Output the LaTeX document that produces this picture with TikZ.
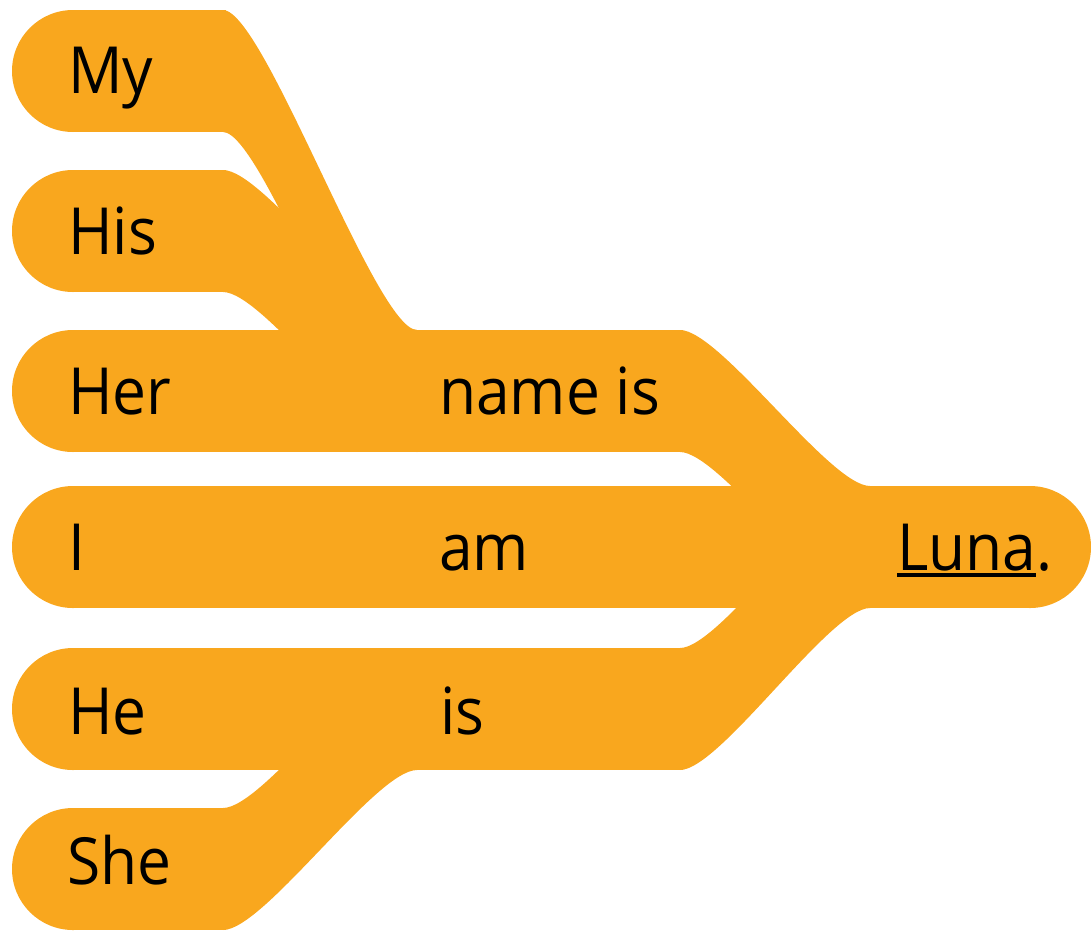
\documentclass[tikz,border=0pt]{standalone}
\usepackage{fontspec}
\setmainfont{Open Sans}[FakeStretch=0.93]
\newcommand\lunaline[1]{\setbox0=\hbox{#1}\rlap{\rule[-7pt]{\wd0}{4pt}}\box0}
\begin{document}
\begin{tikzpicture}[x=1pt,y=-1pt]
\definecolor{band}{RGB}{249,167,30}
\tikzset{
  word/.style={anchor=base west, inner sep=0pt, text=black,
               font=\fontsize{65}{70}\selectfont},
  bandfill/.style={fill=band, draw=none}
}
\useasboundingbox (0,0) rectangle (1091,930);
\clip (0,0) rectangle (1091,930);
% row bands (rounded left ends)
\foreach \c in {71,231,391,547,709,869}{
  \fill[bandfill] (73,\c) circle[radius=61];
}
\fill[bandfill] (73,10)  rectangle (226,132);
\fill[bandfill] (73,170) rectangle (226,292);
\fill[bandfill] (73,330) rectangle (683,452);
\fill[bandfill] (73,486) rectangle (1030,608);
\fill[bandfill] (1030,547) circle[radius=61];
\fill[bandfill] (73,648) rectangle (683,770);
\fill[bandfill] (73,808) rectangle (226,930);
% links
\coordinate (myA) at (223,10);   \coordinate (myB) at (417,330);
\coordinate (hisA) at (223,170); \coordinate (hisB) at (417,330);
\coordinate (sheA) at (223,808); \coordinate (sheB) at (417,648);
\coordinate (nameA) at (680,330);\coordinate (nameB) at (870,486);
\coordinate (heA) at (680,648);  \coordinate (heB) at (870,486);
\fill[bandfill] (myA) .. controls (264,10) and (376,330) .. (myB)
   -- (417,452) .. controls (376,452) and (264,132) .. (223,132) -- cycle;
\fill[bandfill] (hisA) .. controls (264,170) and (376,330) .. (hisB)
   -- (417,452) .. controls (376,452) and (264,292) .. (223,292) -- cycle;
\fill[bandfill] (sheA) .. controls (264,808) and (376,648) .. (sheB)
   -- (417,770) .. controls (376,770) and (264,930) .. (223,930) -- cycle;
\fill[bandfill] (nameA) .. controls (720,330) and (830,486) .. (nameB)
   -- (870,608) .. controls (830,608) and (720,452) .. (680,452) -- cycle;
\fill[bandfill] (heA) .. controls (720,648) and (830,486) .. (heB)
   -- (870,608) .. controls (830,608) and (720,770) .. (680,770) -- cycle;
% words
\node[word] (my)   at (68,93)  {My};
\node[word] (his)  at (68,254) {His};
\node[word] (her)  at (68,414) {Her};
\node[word] (i)    at (68,570) {I};
\node[word] (he)   at (68,734) {He};
\node[word] (she)  at (67,884) {She};
\node[word] (nameis) at (439,414) {name is};
\node[word] (am)   at (439,570) {am};
\node[word] (is)   at (440,734) {is};
\node[word] (luna) at (897,570) {\lunaline{Luna}.};
\end{tikzpicture}
\end{document}
